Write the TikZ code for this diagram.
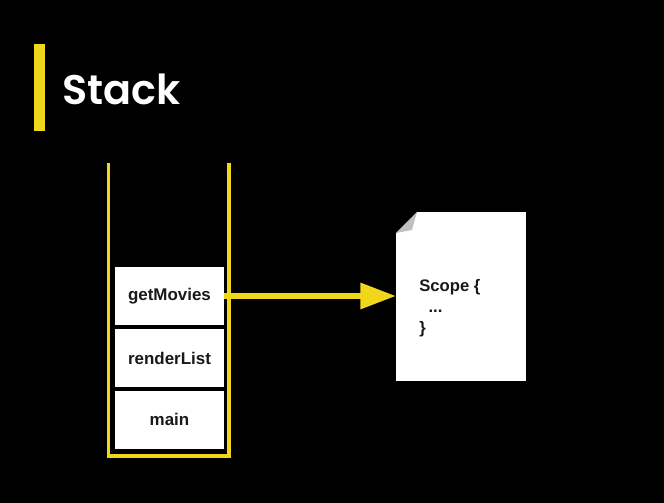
\documentclass[tikz,border=0pt]{standalone}
\usepackage{fontspec}
\setmainfont{Liberation Sans}
\newfontfamily\titlefont[BoldFont={Poppins SemiBold}]{Poppins}
\usepackage{xcolor}
\usetikzlibrary{
    arrows.meta,
    positioning
}
\definecolor{stackYellow}{RGB}{240,215,25}
\definecolor{foldGray}{RGB}{190,192,196}
\tikzset{
  frame/.style   = {fill=white, minimum width=82pt, minimum height=43.5pt, inner sep=0pt,
                    font=\bfseries\fontsize{12.7pt}{15pt}\selectfont, text=black!90},
  wall/.style    = {draw=stackYellow, line width=2.5pt, line join=miter},
  arr/.style     = {-{Triangle[length=26.5pt, width=19pt]}, stackYellow, line width=4pt}
}

\begin{document}
\begin{tikzpicture}[x=0.75pt, y=-0.75pt]
  % Background
  \fill[black] (0,0) rectangle (664,503);
  \useasboundingbox (0,0) rectangle (664,503);

  % Title
  \fill[stackYellow] (33.5,44) rectangle (45,131);
  \node[anchor=base west, inner sep=0pt, text=white, font=\titlefont\bfseries\fontsize{31pt}{34pt}\selectfont]
    (title) at (62,104.5) {Stack};

  % Stack
  \coordinate (wallL) at (108.5,163);
  \coordinate (wallR) at (229,163);
  \draw[wall] (wallL) -- (108.5,456) -- (229,456) -- (wallR);

  % Frames
  \node[frame] (getMovies) at (169.5,296) {\raisebox{-1pt}{getMovies}};
  \node[frame] (renderList) at (169.5,358) {\raisebox{-1pt}{renderList}};
  \node[frame] (main) at (169.5,419.5) {\raisebox{-1pt}{main}};

  % Scope page
  \node[fill=white, minimum width=97.5pt, minimum height=126.75pt,
    inner sep=0pt] (page) at (461,296.5) {};
  \fill[black] (394,210) -- (417,210) -- (417,212) -- (396,233) -- (394,233) -- cycle;
  \fill[foldGray] (396,233) -- (417,212) -- (412,230) -- cycle;
  \node[anchor=west, align=left, inner sep=0pt, text=black!90,
    font=\bfseries\fontsize{12.5pt}{15.8pt}\selectfont] (scope) at (419,308.5)
    {Scope \{\\\hspace*{7pt}...\\\}};

  % Arrow
  \draw[arr] (getMovies.east) -- (getMovies.east -| page.west);
\end{tikzpicture}
\end{document}
